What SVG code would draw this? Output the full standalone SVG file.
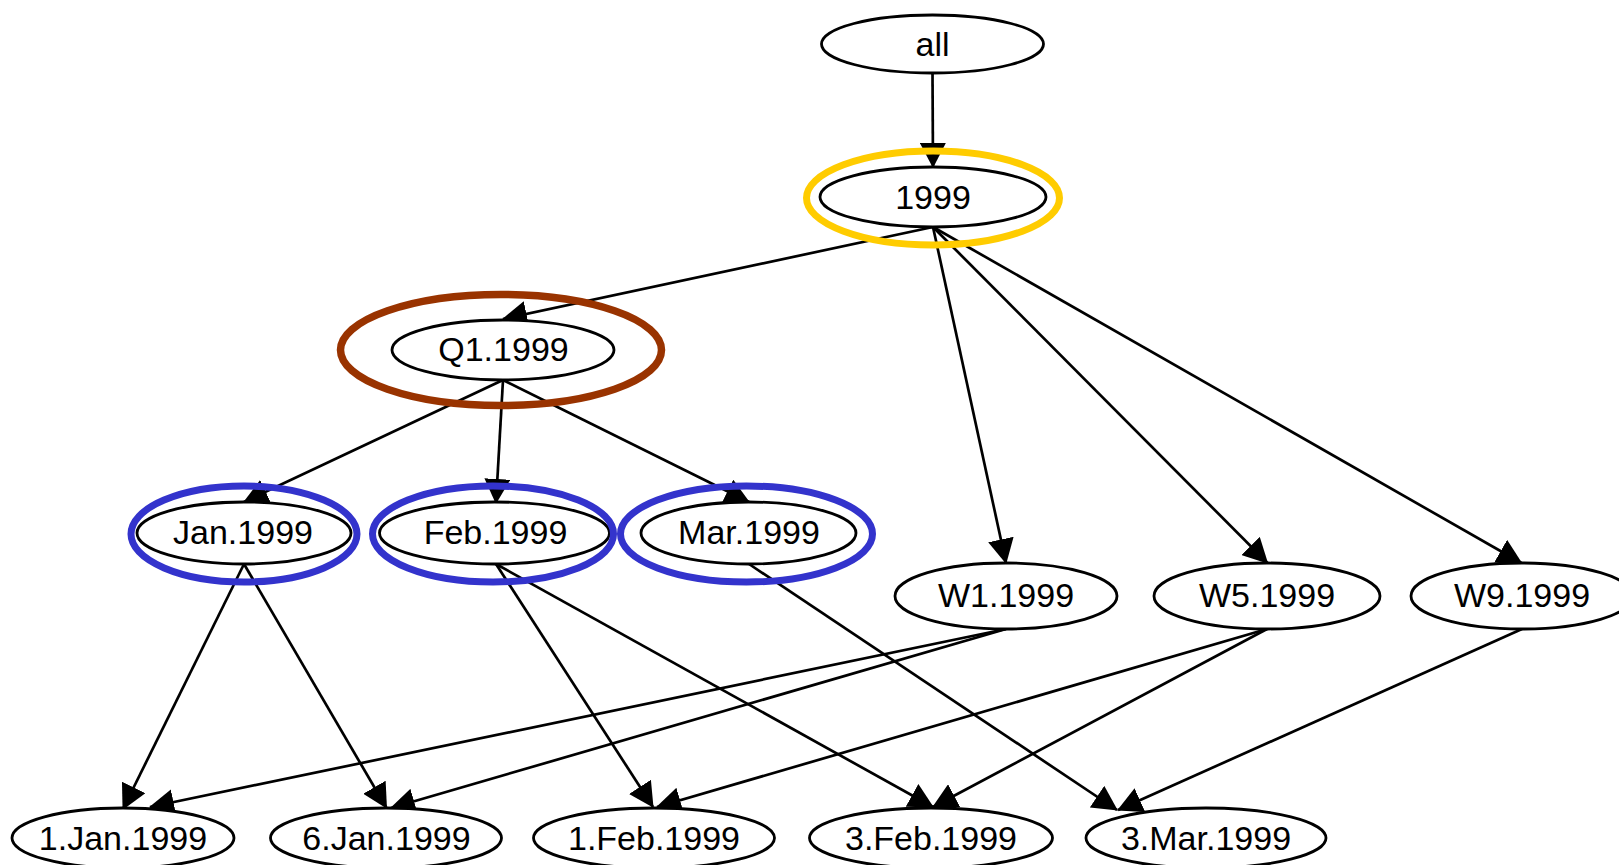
<svg xmlns="http://www.w3.org/2000/svg" width="1619" height="865" viewBox="0 0 1619 865">
  <style>
    .node ellipse.shape { fill: #ffffff; stroke: #000000; stroke-width: 2.8; }
    .node text { font-family: "Liberation Sans", Arial, sans-serif; font-size: 34px; fill: #000000; text-anchor: middle; }
    .edge { stroke: #000000; stroke-width: 2.7; fill: none; marker-end: url(#arrow); }
    .ring { fill: none; }
    .ring.year { stroke: #FFCC00; stroke-width: 7; }
    .ring.quarter { stroke: #993300; stroke-width: 7.5; }
    .ring.month { stroke: #3333CC; stroke-width: 7; }
  </style>
  <defs>
    <marker id="arrow" markerUnits="userSpaceOnUse" viewBox="0 0 25 26" markerWidth="25" markerHeight="26" refX="24" refY="13" orient="auto">
      <path d="M0,0 L25,13 L0,26 z" fill="#000000"/>
    </marker>
  </defs>
  <rect width="1619" height="865" fill="#ffffff"/>

  <g id="connectors">
    <line class="edge" x1="932.5" y1="73" x2="933" y2="167"/>
    <line class="edge" x1="933" y1="227" x2="503" y2="319"/>
    <line class="edge" x1="933" y1="227" x2="1006" y2="563"/>
    <line class="edge" x1="933" y1="227" x2="1267.5" y2="563"/>
    <line class="edge" x1="933" y1="227" x2="1521.5" y2="563"/>
    <line class="edge" x1="503" y1="380" x2="244" y2="502"/>
    <line class="edge" x1="503" y1="380" x2="496" y2="503"/>
    <line class="edge" x1="503" y1="380" x2="749" y2="502"/>
    <line class="edge" x1="244" y1="564" x2="123" y2="809"/>
    <line class="edge" x1="244" y1="564" x2="386.5" y2="808"/>
    <line class="edge" x1="496" y1="564" x2="653" y2="807"/>
    <line class="edge" x1="496" y1="564" x2="933" y2="807"/>
    <line class="edge" x1="749" y1="564" x2="1117" y2="810"/>
    <line class="edge" x1="1006" y1="629" x2="150" y2="807"/>
    <line class="edge" x1="1006" y1="629" x2="391" y2="808"/>
    <line class="edge" x1="1267" y1="629" x2="657" y2="807"/>
    <line class="edge" x1="1267" y1="629" x2="933" y2="807"/>
    <line class="edge" x1="1522" y1="629" x2="1118" y2="810"/>
  </g>

  <g id="node-all" class="node">
    <ellipse class="shape" cx="932.5" cy="44" rx="111" ry="29"/>
    <text x="932.5" y="55.5">all</text>
  </g>
  <g id="node-1999" class="node">
    <ellipse class="shape" cx="933" cy="197" rx="113" ry="30"/>
    <text x="933" y="208.5">1999</text>
    <ellipse class="ring year" cx="933" cy="198" rx="126.5" ry="47"/>
  </g>
  <g id="node-q1-1999" class="node">
    <ellipse class="shape" cx="503" cy="350" rx="111" ry="30"/>
    <text x="503.5" y="361">Q1.1999</text>
    <ellipse class="ring quarter" cx="501" cy="350" rx="160.5" ry="55.5"/>
  </g>
  <g id="node-jan-1999" class="node">
    <ellipse class="shape" cx="244" cy="533" rx="107" ry="31"/>
    <text x="243" y="544">Jan.1999</text>
    <ellipse class="ring month" cx="244" cy="534" rx="113" ry="48"/>
  </g>
  <g id="node-feb-1999" class="node">
    <ellipse class="shape" cx="494.5" cy="533" rx="115" ry="31"/>
    <text x="495.5" y="544">Feb.1999</text>
    <ellipse class="ring month" cx="493" cy="534" rx="120.5" ry="48"/>
  </g>
  <g id="node-mar-1999" class="node">
    <ellipse class="shape" cx="748.5" cy="533" rx="107.5" ry="31"/>
    <text x="749" y="544">Mar.1999</text>
    <ellipse class="ring month" cx="746.5" cy="534" rx="126" ry="48"/>
  </g>
  <g id="node-w1-1999" class="node">
    <ellipse class="shape" cx="1006" cy="596" rx="111" ry="33"/>
    <text x="1006" y="607">W1.1999</text>
  </g>
  <g id="node-w5-1999" class="node">
    <ellipse class="shape" cx="1267" cy="596" rx="113" ry="33"/>
    <text x="1267" y="607">W5.1999</text>
  </g>
  <g id="node-w9-1999" class="node">
    <ellipse class="shape" cx="1522" cy="596" rx="111" ry="33"/>
    <text x="1522" y="607">W9.1999</text>
  </g>
  <g id="node-1-jan-1999" class="node">
    <ellipse class="shape" cx="123" cy="838" rx="111" ry="30"/>
    <text x="123" y="850">1.Jan.1999</text>
  </g>
  <g id="node-6-jan-1999" class="node">
    <ellipse class="shape" cx="386" cy="838" rx="115.5" ry="30"/>
    <text x="386.5" y="850">6.Jan.1999</text>
  </g>
  <g id="node-1-feb-1999" class="node">
    <ellipse class="shape" cx="654" cy="838" rx="120.5" ry="30"/>
    <text x="654" y="850">1.Feb.1999</text>
  </g>
  <g id="node-3-feb-1999" class="node">
    <ellipse class="shape" cx="931" cy="838" rx="121.5" ry="30"/>
    <text x="931" y="850">3.Feb.1999</text>
  </g>
  <g id="node-3-mar-1999" class="node">
    <ellipse class="shape" cx="1206" cy="838" rx="120" ry="30"/>
    <text x="1206" y="850">3.Mar.1999</text>
  </g>
</svg>
